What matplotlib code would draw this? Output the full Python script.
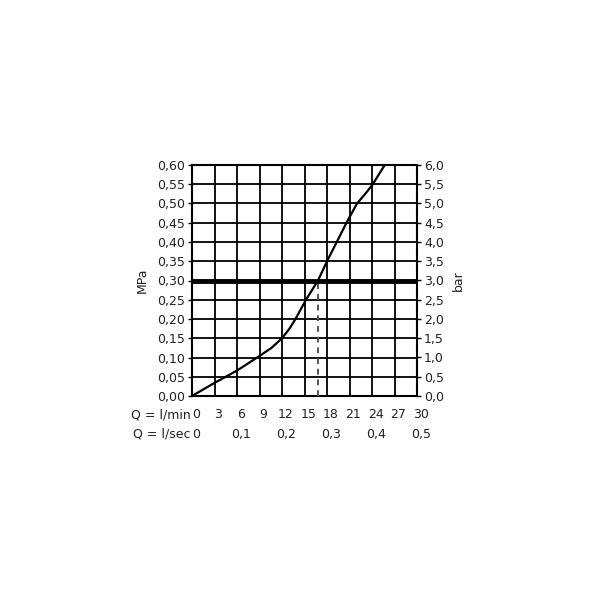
"""Pressure loss diagram: flow rate vs. pressure (MPa / bar)."""

import numpy
from matplotlib import pyplot
from matplotlib import transforms

# Curve.
flow_lmin = [0, 3, 6, 9, 10.6, 12, 13.0, 13.8, 14.5, 15.2, 16.0, 16.8,
             17.4, 18.0, 19.3, 20.6, 22.0, 23.1, 24.1, 25.7]
pressure_mpa = [0, 0.034, 0.066, 0.104, 0.125, 0.15, 0.175, 0.20, 0.225,
                0.25, 0.275, 0.30, 0.325, 0.35, 0.40, 0.45, 0.50, 0.525,
                0.55, 0.60]

# Operating point.
p_ref = 0.30
q_ref = 16.8

lmin_ticks = [0, 3, 6, 9, 12, 15, 18, 21, 24, 27, 30]
lsec_ticks = [0, 6, 12, 18, 24, 30]
lsec_labels = ['0', '0,1', '0,2', '0,3', '0,4', '0,5']
mpa_ticks = numpy.round(numpy.arange(0, 0.601, 0.05), 2)


def comma(v, fmt):
    return format(v, fmt).replace('.', ',')


pyplot.rc('font', family='DejaVu Sans', size=9)
fig = pyplot.figure(figsize=(6.0, 6.0), dpi=100)
ax = fig.add_axes([0.32, 0.34, 0.375, 0.385])

ax.set_xlim(0, 30)
ax.set_ylim(0, 0.6)
ax.set_xticks(lmin_ticks)
ax.set_yticks(mpa_ticks)
ax.grid(True, color='black', linewidth=1.3)
ax.set_axisbelow(True)
for spine in ax.spines.values():
    spine.set_linewidth(1.5)

ax.plot(flow_lmin, pressure_mpa, color='black', linewidth=1.6, zorder=3)
ax.axhline(p_ref, color='black', linewidth=3.5, zorder=4)
ax.plot([q_ref, q_ref], [0, p_ref], color='#555555', linewidth=1.4,
        linestyle=(0, (3, 2.5)), zorder=3)

# Left axis: MPa.
ax.set_yticklabels([comma(v, '.2f') for v in mpa_ticks], color='#222222')
ax.tick_params(axis='y', length=3, width=1, pad=2)
ax.set_ylabel('MPa', labelpad=6, color='#222222')

# Right axis: bar.
ax2 = ax.twinx()
ax2.set_ylim(0, 6.0)
ax2.set_yticks(mpa_ticks * 10)
ax2.set_yticklabels([comma(v * 10, '.1f') for v in mpa_ticks],
                    color='#222222')
ax2.tick_params(axis='y', length=3, width=1, pad=2)
ax2.set_ylabel('bar', labelpad=6, color='#222222')
for spine in ax2.spines.values():
    spine.set_visible(False)

# Bottom: two rows of flow labels, nudged slightly right as in the original.
shift = transforms.ScaledTranslation(4 / 100, 0, fig.dpi_scale_trans)
ax.set_xticks(lmin_ticks)
ax.set_xticklabels([])
ax.tick_params(axis='x', length=0)
xtrans = ax.get_xaxis_transform() + shift
row1, row2 = -0.082, -0.165
for q in lmin_ticks:
    ax.text(q, row1, str(q), transform=xtrans, ha='center', va='center',
            color='#222222')
for q, lab in zip(lsec_ticks, lsec_labels):
    ax.text(q, row2, lab, transform=xtrans, ha='center', va='center',
            color='#222222')
ax.text(-0.2, row1, 'Q = l/min', transform=ax.get_xaxis_transform(),
        ha='right', va='center', color='#222222')
ax.text(-0.2, row2, 'Q = l/sec', transform=ax.get_xaxis_transform(),
        ha='right', va='center', color='#222222')

fig.savefig('out.png', dpi=100)
